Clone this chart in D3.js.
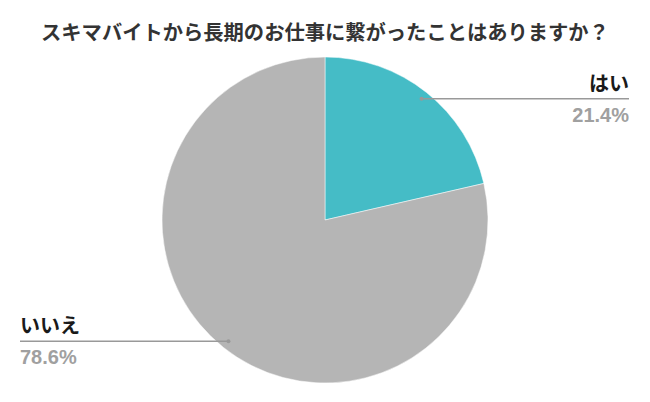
<!DOCTYPE html>
<html><head><meta charset="utf-8">
<script src="https://cdn.jsdelivr.net/npm/d3@7"></script>
<style>body{margin:0;background:#fff}svg{display:block}text{font-family:"Noto Sans CJK JP","Noto Sans",sans-serif}</style>
</head><body>
<script>
const title = "スキマバイトから長期のお仕事に繋がったことはありますか？";
const categories = ["はい", "いいえ"];
const values = [21.4, 78.6];
const colors = ["#45BCC6", "#B5B5B5"];

const W = 650, H = 402, cx = 325, cy = 220, R = 163;
const svg = d3.select("body").append("svg").attr("width", W).attr("height", H);

svg.append("text").attr("x", 325).attr("y", 40).attr("text-anchor", "middle")
  .attr("font-size", 20.3).attr("font-weight", "bold").attr("fill", "#333").text(title);

const data = categories.map((c, i) => ({cat: c, val: values[i], color: colors[i]}));
const pie = d3.pie().value(d => d.val).sort(null);
const arcs = pie(data);
const arc = d3.arc().innerRadius(0).outerRadius(R);
const g = svg.append("g").attr("transform", `translate(${cx},${cy})`);
g.selectAll("path").data(arcs).join("path").attr("d", arc).attr("fill", d => d.data.color)
  .attr("stroke", "#fff").attr("stroke-width", 0.5);

const inner = d3.arc().innerRadius(155).outerRadius(155);
arcs.forEach((a, i) => {
  const [px, py] = inner.centroid(a);
  const x = cx + px, y = cy + py;
  const right = px > 0;
  const x2 = right ? 629 : 20;
  svg.append("line").attr("x1", x).attr("y1", y).attr("x2", x2).attr("y2", y)
    .attr("stroke", "#999").attr("stroke-width", 1.5);
  svg.append("circle").attr("cx", x).attr("cy", y).attr("r", 2).attr("fill", "#999");
  const anchor = right ? "end" : "start";
  svg.append("text").attr("x", x2).attr("y", y - 8).attr("text-anchor", anchor)
    .attr("font-size", 20).attr("font-weight", "bold").attr("fill", "#1a1a1a").text(a.data.cat);
  svg.append("text").attr("x", x2).attr("y", y + 23).attr("text-anchor", anchor)
    .attr("font-size", 20).attr("font-weight", "bold").attr("fill", "#A0A0A0")
    .style("font-family", "'Liberation Sans', Arial, sans-serif").text(d3.format(".1f")(a.data.val) + "%");
});
</script>
</body></html>
